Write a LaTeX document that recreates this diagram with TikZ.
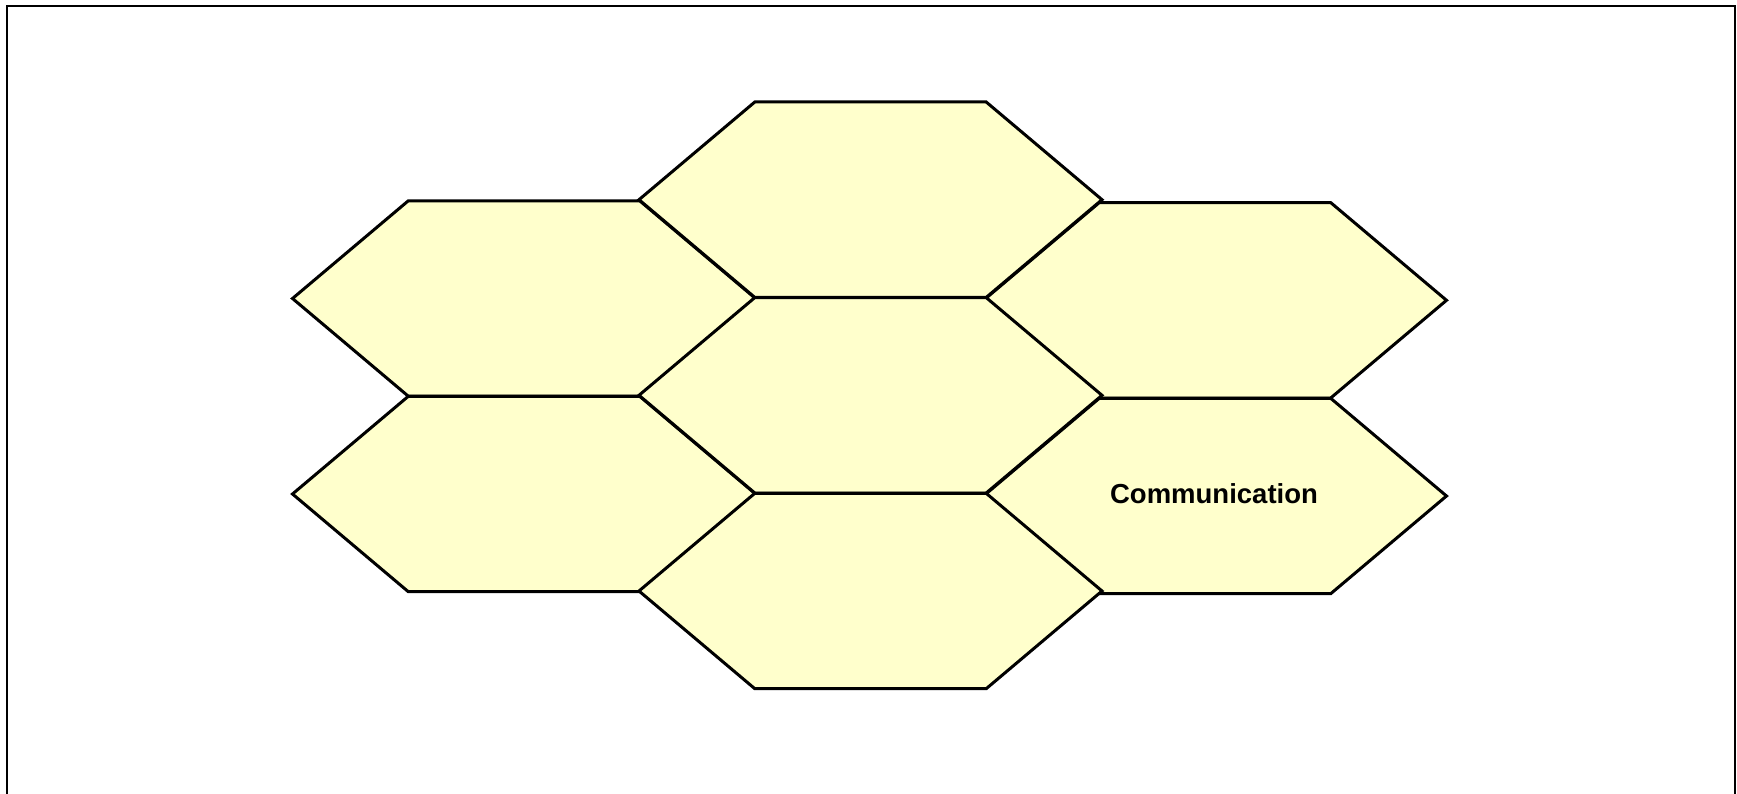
\documentclass[tikz,border=0pt]{standalone}
\usepackage{fontspec}
\setmainfont{Liberation Sans}
\definecolor{hexfill}{RGB}{255,255,204}
\tikzset{
  hexcell/.style={draw=black, fill=hexfill, line width=3pt, line join=miter},
  frame/.style={draw=black, line width=2.2pt},
  label/.style={font=\fontsize{27.5}{31}\selectfont\bfseries, text=black, inner sep=0pt}
}
\newcommand{\hexat}[3]{%
  \coordinate (#3) at (#1,-#2);
  \path[hexcell] ($(#3)+(-231.5,0)$) -- ($(#3)+(-115.7,97.7)$) -- ($(#3)+(115.7,97.7)$) -- ($(#3)+(231.5,0)$) -- ($(#3)+(115.7,-97.7)$) -- ($(#3)+(-115.7,-97.7)$) -- cycle;}
\usetikzlibrary{calc}
\begin{document}
\begin{tikzpicture}[x=1pt,y=1pt]
\useasboundingbox (0,0) rectangle (1737,-794);
\clip (0,0) rectangle (1737,-794);
\fill[white] (0,0) rectangle (1737,-794);
\path[frame] (7,-820) -- (7,-6) -- (1735,-6) -- (1735,-820);
\hexat{524}{298.5}{l1}
\hexat{524}{494}{l2}
\hexat{1215}{300.3}{r1}
\hexat{1215}{496}{r2}
\hexat{870.5}{199.7}{m1}
\hexat{870.5}{395.3}{m2}
\hexat{870.5}{591}{m3}
\node[label] (comm) at (1214,-494) {Communication};
\end{tikzpicture}
\end{document}
